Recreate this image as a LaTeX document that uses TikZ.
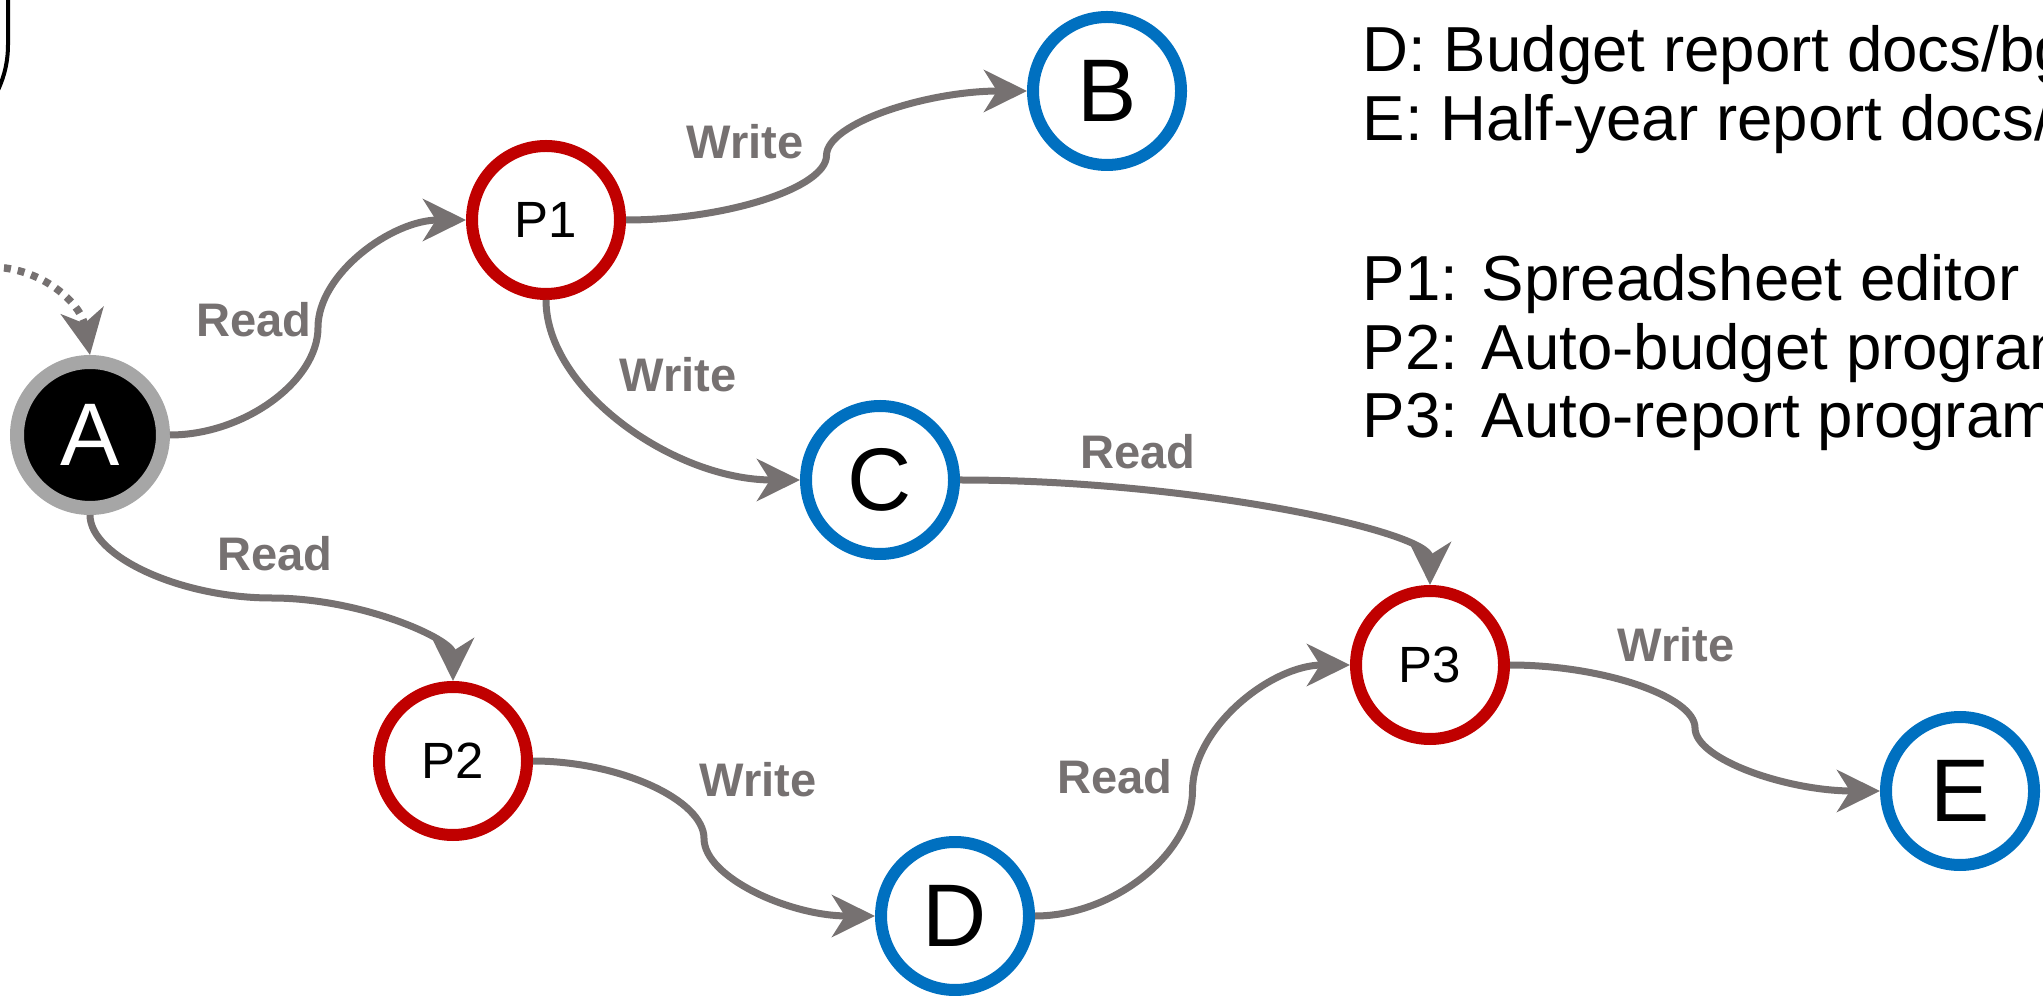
\documentclass[tikz,border=0pt]{standalone}
\usepackage{fontspec}
\setmainfont{Liberation Sans}
\usetikzlibrary{arrows.meta,calc}

\definecolor{flowgray}{HTML}{767171}
\definecolor{procred}{HTML}{C00000}
\definecolor{docblue}{HTML}{0070C0}
\definecolor{ringgray}{HTML}{A6A6A6}

\tikzset{
  proc/.style={draw=procred, circle, line width=1.2mm, minimum size=14.8mm, inner sep=0pt,
    font=\fontsize{14.5}{17}\selectfont},
  doc/.style={draw=docblue, circle, line width=1.2mm, minimum size=14.8mm, inner sep=0pt,
    font=\fontsize{25.3}{30}\selectfont},
  flow/.style={draw=flowgray, line width=0.7mm, -{Stealth[length=4.3mm,width=4.2mm,inset=1.3mm]}},
  dotflow/.style={draw=flowgray, line width=0.75mm, dash pattern=on 0.7mm off 0.7mm,
    -{Stealth[length=4.5mm,width=4.3mm,inset=1.3mm]}},
  lbl/.style={text=flowgray, font=\bfseries\fontsize{13.4}{16}\selectfont, inner sep=0pt},
  legend/.style={anchor=base west, inner sep=0pt, font=\fontsize{18.1}{22}\selectfont},
  % curved connector: horizontal ends, vertical middle
  hvh/.style={to path={let \p1=(\tikztostart), \p2=(\tikztotarget) in
    .. controls ({(3*\x1+\x2)/4},\y1) and ({(\x1+\x2)/2},{(3*\y1+\y2)/4})
    .. ({(\x1+\x2)/2},{(\y1+\y2)/2})
    .. controls ({(\x1+\x2)/2},{(\y1+3*\y2)/4}) and ({(\x1+3*\x2)/4},\y2)
    .. (\tikztotarget)}},
  % curved connector: vertical ends, horizontal middle
  vhv/.style={to path={let \p1=(\tikztostart), \p2=(\tikztotarget) in
    .. controls (\x1,{(3*\y1+\y2)/4}) and ({(3*\x1+\x2)/4},{(\y1+\y2)/2})
    .. ({(\x1+\x2)/2},{(\y1+\y2)/2})
    .. controls ({(\x1+3*\x2)/4},{(\y1+\y2)/2}) and (\x2,{(\y1+3*\y2)/4})
    .. (\tikztotarget)}},
}

\begin{document}
\begin{tikzpicture}[x=0.1mm, y=0.1mm]
  \useasboundingbox (0,0) rectangle (2043,995);
  \clip (0,0) rectangle (2043,995);

  % fragment of a shape cut off at the top left
  \draw[line width=0.4mm] (8,1000) -- (8,950) .. controls (8,935) and (5,920) .. (-2,905);

  \node[draw=ringgray, fill=black, circle, line width=1.4mm, minimum size=14.6mm, inner sep=0pt,
    text=white, font=\fontsize{25.3}{30}\selectfont] (A) at (90,560) {A};
  \node[proc] (P1) at (546,775) {P1};
  \node[proc] (P2) at (453,234) {P2};
  \node[proc] (P3) at (1430,330) {P3};
  \node[doc] (B) at (1107,904) {B};
  \node[doc] (C) at (880,515) {C};
  \node[doc] (D) at (955,79) {D};
  \node[doc] (E) at (1960,204) {E};

  \coordinate (src) at (-10,728);
  \draw[dotflow] (src) to[out=0, in=100] (A.north);

  \draw[flow, hvh] (A.east) to (P1.west);
  \draw[flow, hvh] (P1.east) to (B.west);
  \draw[flow] (P1.south) to[out=-90, in=180, out distance=9mm, in distance=12.6mm] (C.west);
  \draw[flow] (C.east) to[out=0, in=90, out distance=23.5mm, in distance=5.3mm] (P3.north);
  \draw[flow, vhv] (A.south) to (P2.north);
  \draw[flow, hvh] (P2.east) to (D.west);
  \draw[flow, hvh] (D.east) to (P3.west);
  \draw[flow, hvh] (P3.east) to (E.west);

  \node[lbl] (r1) at (254,675) {Read};
  \node[lbl] (w1) at (745,853) {Write};
  \node[lbl] (w2) at (678,620) {Write};
  \node[lbl] (r2) at (1138,543) {Read};
  \node[lbl] (r3) at (275,441) {Read};
  \node[lbl] (w3) at (758,215) {Write};
  \node[lbl] (r4) at (1115,218) {Read};
  \node[lbl] (w4) at (1676,350) {Write};

  \node[legend] (keyD) at (1362,923) {D: Budget report docs/bg};
  \node[legend] (keyE) at (1362,854) {E: Half-year report docs/};
  \node[legend] (keyP1) at (1362,694) {P1: Spreadsheet editor};
  \node[legend] (keyP2) at (1362,625) {P2: Auto-budget program};
  \node[legend] (keyP3) at (1362,557) {P3: Auto-report program};
\end{tikzpicture}
\end{document}
